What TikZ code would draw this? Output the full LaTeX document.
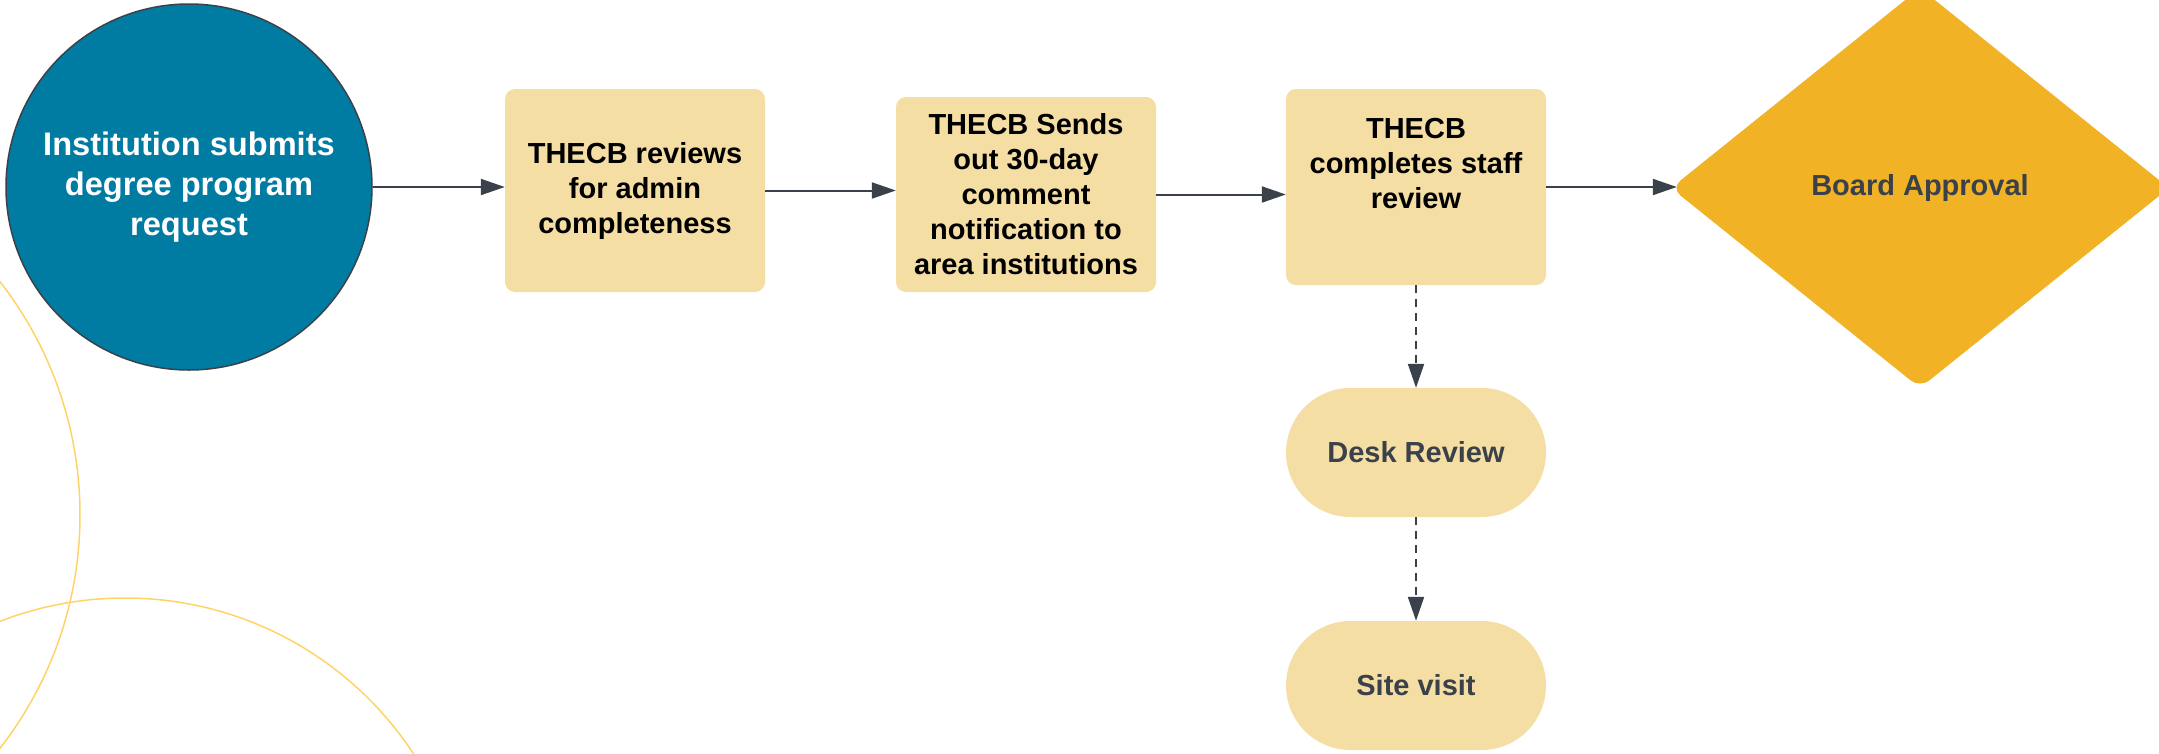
\documentclass[tikz,border=0pt]{standalone}
\usepackage{fontspec}
\setmainfont{Liberation Sans}
\usetikzlibrary{shapes.geometric,shapes.misc,arrows.meta}
\definecolor{blueC}{HTML}{007CA3}
\definecolor{boxY}{HTML}{F5DEA3}
\definecolor{diaY}{HTML}{F2B225}
\definecolor{arcY}{HTML}{FFD466}
\definecolor{ink}{HTML}{3A414A}
\begin{document}
\begin{tikzpicture}[x=1pt,y=-1pt,
  stepbox/.style={fill=boxY, rounded corners=10pt, minimum width=260pt, align=center,
    font=\bfseries\fontsize{29}{35}\selectfont, inner sep=0pt, text=black},
  pill/.style={rounded rectangle, fill=boxY, minimum width=260pt, minimum height=129pt,
    inner sep=0pt, font=\bfseries\fontsize{29}{35}\selectfont, text=ink},
  arr/.style={draw=ink, line width=2pt, -{Triangle[length=24pt,width=16pt]}},
  darr/.style={arr, dash pattern=on 8pt off 6pt},
  deco/.style={draw=arcY, line width=1.5pt}
]
\useasboundingbox (0,0) rectangle (2159,753);
\clip (0,0) rectangle (2159,753);
% decorative arcs
\draw[deco] (-300,515) circle[radius=380];
\draw[deco] (125,943) circle[radius=345];
% nodes
\node[circle, fill=blueC, draw=ink, line width=1.5pt, minimum size=366pt, inner sep=0pt,
  align=center, text=white, font=\bfseries\fontsize{32.6}{40}\selectfont]
  (circ) at (189,187) {Institution submits\\degree program\\request};
\node[stepbox, minimum height=203pt] (b1) at (635,190.5)
  {THECB reviews\\for admin\\completeness};
\node[stepbox, minimum height=195pt] (b2) at (1026,194.5)
  {THECB Sends\\out 30-day\\comment\\notification to\\area institutions};
\node[stepbox, minimum height=196pt] (b3) at (1416,187)
  {THECB\\completes staff\\review\\[12pt]};
\node[diamond, fill=diaY, minimum width=498pt, minimum height=400pt, inner sep=0pt,
  rounded corners=12pt, text=ink, font=\bfseries\fontsize{29}{35}\selectfont]
  (dia) at (1920,188) {Board Approval};
\node[pill] (desk) at (1416,452.5) {Desk Review};
\node[pill] (site) at (1416,685.5) {Site visit};
% connectors
\draw[arr] (circ.east) -- (circ.east -| b1.west);
\draw[arr] (b1.east) -- (b1.east -| b2.west);
\draw[arr] (b2.east) -- (b2.east -| b3.west);
\draw[arr] (b3.east) -- ([xshift=6pt]b3.east -| dia.west);
\draw[darr] (b3.south) -- (desk.north);
\draw[darr] (desk.south) -- (site.north);
\end{tikzpicture}
\end{document}
